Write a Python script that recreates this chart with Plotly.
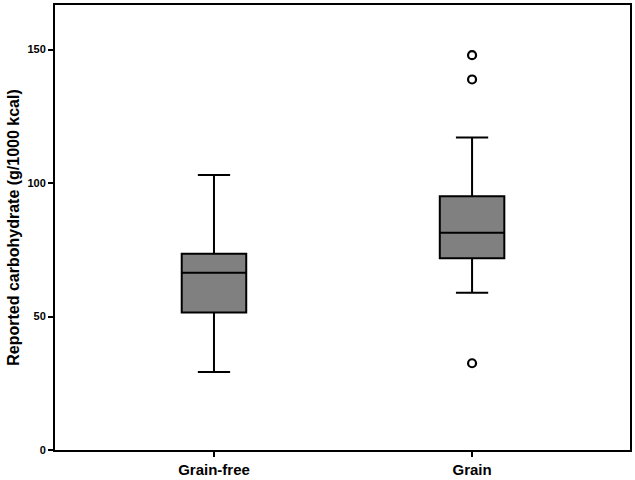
import plotly.graph_objects as go

categories = ["Grain-free", "Grain"]
q1 = [51.5, 71.8]
median = [66.4, 81.4]
q3 = [73.5, 95.1]
lower_whisker = [29.2, 58.9]
upper_whisker = [103.0, 117.1]
outlier_cat = ["Grain", "Grain", "Grain"]
outlier_val = [147.9, 138.8, 32.5]

FONT = "Liberation Sans, Arial, sans-serif"

fig = go.Figure()
fig.add_trace(go.Box(
    x=categories, q1=q1, median=median, q3=q3,
    lowerfence=lower_whisker, upperfence=upper_whisker,
    fillcolor="rgb(128,128,128)",
    line=dict(color="black", width=2),
    width=0.25, whiskerwidth=0.5,
    boxpoints=False, showlegend=False, hoverinfo="skip",
))
fig.add_trace(go.Scatter(
    x=outlier_cat, y=outlier_val, mode="markers",
    marker=dict(symbol="circle-open", color="black", size=8, line=dict(width=2.2)),
    showlegend=False,
))

fig.update_layout(
    width=635, height=480,
    margin=dict(l=55, r=5, t=5, b=30, autoexpand=False),
    paper_bgcolor="white", plot_bgcolor="white",
    font=dict(family=FONT, color="black"),
)
fig.update_xaxes(
    type="category", range=[-0.616, 1.612], automargin=False,
    showline=True, linecolor="black", linewidth=2, mirror=True,
    ticks="outside", ticklen=5, tickwidth=2, tickcolor="black",
    tickfont=dict(size=15, family=FONT, color="black"),
    showgrid=False, zeroline=False,
    tickvals=categories, ticktext=["<b>Grain-free</b>", "<b>Grain</b>"],
)
fig.update_yaxes(
    range=[0, 166.7], automargin=False,
    tickvals=[0, 50, 100, 150], ticktext=["<b>0</b>", "<b>50</b>", "<b>100</b>", "<b>150</b>"],
    showline=True, linecolor="black", linewidth=2, mirror=True,
    ticks="outside", ticklen=5, tickwidth=2, tickcolor="black",
    tickfont=dict(size=11, family=FONT, color="black"),
    showgrid=False, zeroline=False,
    title=dict(text="<b>Reported carbohydrate (g/1000 kcal)</b>", standoff=4,
               font=dict(size=16, family=FONT, color="black")),
)

fig.write_html("out.html", config={"displayModeBar": False},
               post_script="document.body.style.margin='0';document.body.style.overflow='hidden';")
